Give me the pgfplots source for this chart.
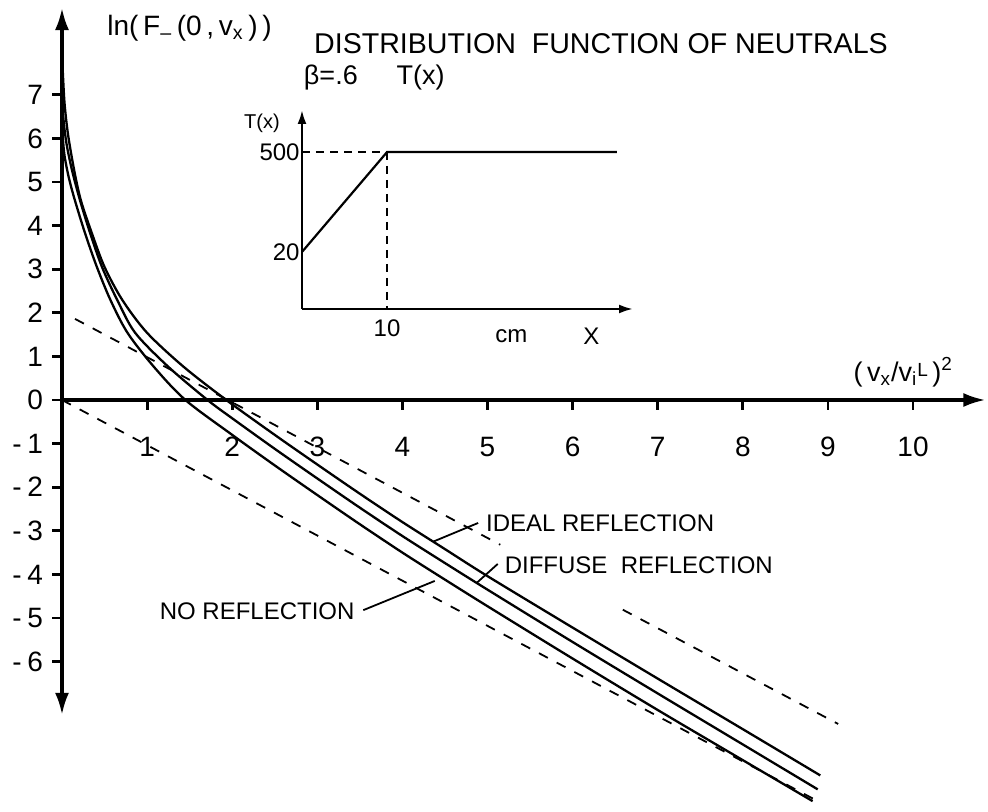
\documentclass[border=0pt]{standalone}
\usepackage{fontspec}
\setmainfont{Liberation Sans}
\usepackage{pgfplots}
\pgfplotsset{compat=1.18}
\usetikzlibrary{arrows.meta}

\begin{document}
\begin{tikzpicture}
\begin{axis}[
  x=42.55pt, y=21.8pt,
  axis lines=middle,
  xmin=0, xmax=10.85, ymin=-7.22, ymax=8.99,
  clip=false,
  axis line style={line width=1.6pt},
  x axis line style={-{Latex[length=11pt,width=7pt]}},
  y axis line style={{Latex[length=11pt,width=7pt]}-{Latex[length=11pt,width=7pt]}},
  xtick={1,...,10},
  ytick={-6,...,7},
  yticklabels={-\hspace{0.2em}6,-\hspace{0.2em}5,-\hspace{0.2em}4,-\hspace{0.2em}3,-\hspace{0.2em}2,-\hspace{0.2em}1,0,1,2,3,4,5,6,7},
  hide obscured y ticks=false,
  tick align=outside,
  major tick length=5pt,
  tick style={line width=1.4pt, black},
  /pgf/number format/assume math mode=true,
  ticklabel style={font=\fontsize{14}{16}\selectfont},
  xticklabel style={yshift=-10pt},
  yticklabel style={xshift=-1pt},
]
% curves
\addplot[line width=1.15pt, smooth, tension=0.5] coordinates {
  (0.01,7.5)(0.03,6.8)(0.07,6.1)(0.14,5.3)(0.22,4.59)(0.35,3.83)(0.50,3.05)
  (0.71,2.29)(1.0,1.54)(1.43,0.76)(1.93,0)(2.5,-0.80)(3,-1.48)(3.5,-2.15)
  (4,-2.80)(4.5,-3.42)(5,-4.04)(6,-5.22)(7,-6.39)(8,-7.55)(8.91,-8.61)};
\addplot[line width=1.15pt, smooth, tension=0.5] coordinates {
  (0.01,6.6)(0.03,6.2)(0.06,5.8)(0.12,5.25)(0.21,4.59)(0.33,3.83)(0.47,3.05)
  (0.65,2.29)(0.86,1.54)(1.25,0.76)(1.71,0)(2,-0.42)(2.5,-1.12)(3,-1.80)
  (3.5,-2.47)(4,-3.12)(4.5,-3.74)(5,-4.35)(6,-5.55)(7,-6.73)(8,-7.9)(8.88,-8.93)};
\addplot[line width=1.15pt, smooth, tension=0.5] coordinates {
  (0.01,6.0)(0.03,5.6)(0.08,5.1)(0.15,4.59)(0.27,3.83)(0.41,3.05)(0.57,2.29)
  (0.77,1.54)(1.08,0.76)(1.45,0)(2,-0.80)(2.5,-1.50)(3,-2.18)(3.5,-2.85)
  (4,-3.50)(4.5,-4.12)(5,-4.73)(6,-5.93)(7,-7.11)(8,-8.26)(8.82,-9.2)};
% asymptotes
\addplot[line width=0.9pt, dash pattern=on 5pt off 5pt] coordinates {(0.153,1.86)(5.15,-3.32)};
\addplot[line width=0.9pt, dash pattern=on 5pt off 5pt] coordinates {(6.59,-4.81)(9.12,-7.43)};
\addplot[line width=0.9pt, dash pattern=on 5pt off 5pt] coordinates {(0,0)(8.88,-9.2)};

% labels
\node[anchor=west, font=\fontsize{14}{16}\selectfont] at (axis cs:0.45,8.53)
  {ln(\,F\textsubscript{--}\,(0\,,\,v\textsubscript{x}\,)\,)};
\node[anchor=west, font=\fontsize{14.3}{16}\selectfont] at (axis cs:2.88,8.18)
  {DISTRIBUTION\ \ FUNCTION OF NEUTRALS};
\node[anchor=west, font=\fontsize{13.5}{15}\selectfont] at (axis cs:2.76,7.40) {β=.6};
\node[anchor=west, font=\fontsize{13.5}{15}\selectfont] at (axis cs:3.85,7.40) {T(x)};
\node[anchor=west, font=\fontsize{13.5}{15}\selectfont] at (axis cs:9.22,0.64)
  {(\,v\textsubscript{x}/v\textsubscript{i}\raisebox{0.35ex}{\fontsize{9.5}{10}\selectfont L}\,)\textsuperscript{2}};

\node[anchor=west, font=\fontsize{12}{14}\selectfont] at (axis cs:4.90,-2.82) {IDEAL REFLECTION};
\node[anchor=west, font=\fontsize{12}{14}\selectfont] at (axis cs:5.12,-3.78) {DIFFUSE\ \ REFLECTION};
\node[anchor=east, font=\fontsize{12}{14}\selectfont] at (axis cs:3.52,-4.85) {NO REFLECTION};
\draw[line width=0.9pt] (axis cs:4.36,-3.25) -- (axis cs:4.89,-2.82);
\draw[line width=0.9pt] (axis cs:4.87,-4.20) -- (axis cs:5.12,-3.76);
\draw[line width=0.9pt] (axis cs:3.54,-4.82) -- (axis cs:4.38,-4.15);

% inset text
\node[font=\fontsize{10}{12}\selectfont] at (axis cs:2.35,6.35) {T(x)};
\node[font=\fontsize{12}{14}\selectfont] at (axis cs:5.28,1.47) {cm};
\node[font=\fontsize{12}{14}\selectfont] at (axis cs:6.22,1.47) {X};

\coordinate (ins) at (axis cs:2.82,2.087);
\path (axis cs:-0.7286,9.174) rectangle (axis cs:10.881,-9.427);
\end{axis}

% temperature profile T(x)
\begin{axis}[
  at={(ins)}, anchor=south west,
  scale only axis, width=165.5pt, height=99.5pt,
  axis lines=left,
  ymode=log,
  xmin=0, xmax=38.9, ymin=3.19, ymax=1933,
  axis line style={line width=1.2pt},
  x axis line style={-{Latex[length=7pt,width=4.5pt]}},
  y axis line style={-{Latex[length=7pt,width=4.5pt]}},
  xtick={10}, xticklabels={10},
  ytick={20,500}, yticklabels={20,500},
  major tick length=0pt,
  ticklabel style={font=\fontsize{12}{14}\selectfont},
  xticklabel style={yshift=-2pt},
  yticklabel style={inner sep=1pt},
  clip=false,
]
\addplot[line width=1.1pt] coordinates {(0,20)(10,500)(37,500)};
\addplot[line width=0.9pt, dash pattern=on 4pt off 3pt] coordinates {(0,500)(10,500)};
\addplot[line width=0.9pt, dash pattern=on 4pt off 3pt] coordinates {(10,500)(10,3.19)};
\end{axis}
\end{tikzpicture}
\end{document}
